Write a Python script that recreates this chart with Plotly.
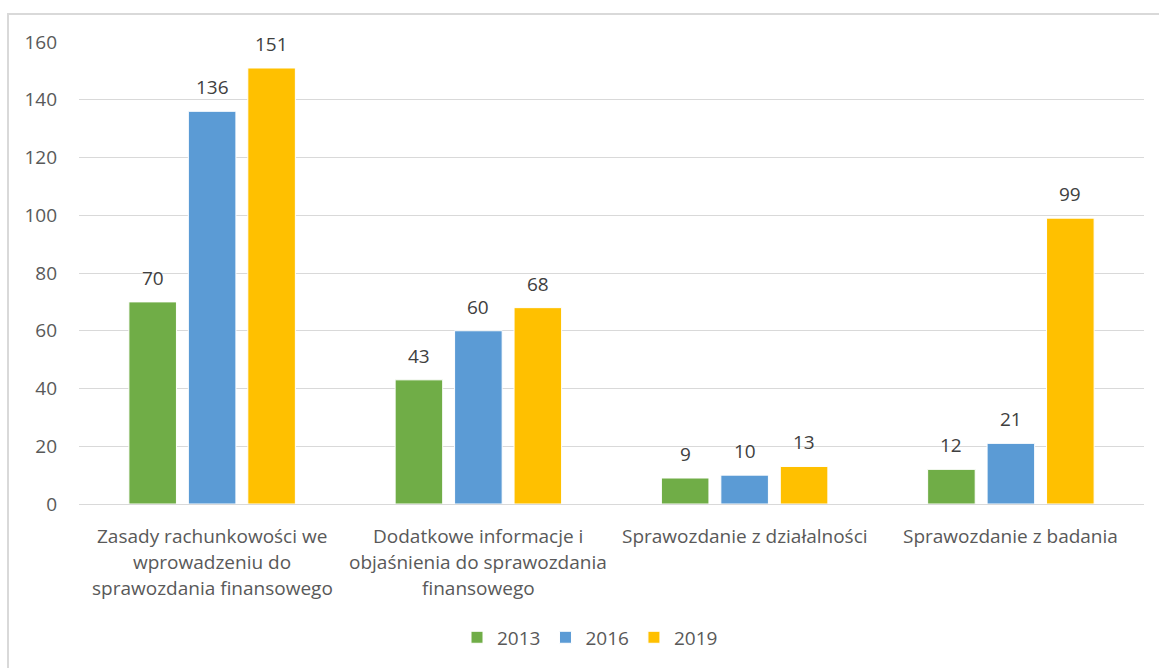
import plotly.graph_objects as go

# Categories (one label line per list element) and yearly counts
categories = [
    ["Zasady rachunkowości we", "wprowadzeniu do", "sprawozdania finansowego"],
    ["Dodatkowe informacje i", "objaśnienia do sprawozdania", "finansowego"],
    ["Sprawozdanie z działalności"],
    ["Sprawozdanie z badania"],
]
years = ["2013", "2016", "2019"]
values_2013 = [70, 43, 9, 12]
values_2016 = [136, 60, 10, 21]
values_2019 = [151, 68, 13, 99]
y_ticks = [0, 20, 40, 60, 80, 100, 120, 140, 160]

colors = {"2013": "#70AD47", "2016": "#5B9BD5", "2019": "#FFC000"}
series = {"2013": values_2013, "2016": values_2016, "2019": values_2019}

FONT = "Open Sans"
FS = 19
TXT = "#595959"
W, H = 1159, 668
ML, MR, MT, MB = 79, 15, 42, 162

keys = [" ".join(c) for c in categories]

fig = go.Figure()
for yr in years:
    fig.add_trace(go.Bar(
        name=yr, x=keys, y=series[yr],
        marker=dict(color=colors[yr], line=dict(color="white", width=1)),
    ))

annotations = []
# value labels above each bar
n = len(years)
for i, yr in enumerate(years):
    for j, v in enumerate(series[yr]):
        annotations.append(dict(
            x=j, y=v, xref="x", yref="y", text=str(v), showarrow=False,
            xshift=(i - (n - 1) / 2) * 59.5, yanchor="bottom", yshift=9,
            font=dict(family=FONT, size=FS, color="#404040"),
        ))

# category labels, one line at a time
for j, lines in enumerate(categories):
    for k, line in enumerate(lines):
        annotations.append(dict(
            x=j, y=0, xref="x", yref="y", text=line, showarrow=False,
            yanchor="middle", yshift=-32 - 26 * k,
            font=dict(family=FONT, size=FS, color=TXT),
        ))

pw = W - ML - MR
ph = H - MT - MB
fig.update_layout(
    width=W, height=H,
    margin=dict(l=ML, r=MR, t=MT, b=MB),
    paper_bgcolor="white", plot_bgcolor="white",
    barmode="group", bargap=0.33, bargroupgap=0.2,
    font=dict(family=FONT, size=FS, color=TXT),
    showlegend=True,
    legend=dict(orientation="h", x=(590 - ML) / pw, xanchor="center",
                y=-(640 - MT - ph) / ph, yanchor="middle",
                font=dict(family=FONT, size=FS, color=TXT),
                itemwidth=30, traceorder="normal"),
    xaxis=dict(showticklabels=False, showgrid=False, zeroline=False,
               showline=False, range=[-0.5, len(categories) - 0.5]),
    yaxis=dict(range=[0, 160], tickvals=y_ticks, showgrid=True,
               gridcolor="#D9D9D9", gridwidth=1, zeroline=True,
               zerolinecolor="#D9D9D9", zerolinewidth=1,
               ticks="", ticklabelstandoff=21,
               tickfont=dict(family=FONT, size=FS, color=TXT)),
    annotations=annotations,
    shapes=[dict(type="rect", xref="paper", yref="paper",
                 x0=(8 - ML) / pw, x1=(W + 5 - ML) / pw,
                 y0=-(H + 5 - MT - ph) / ph, y1=1 + (MT - 14) / ph,
                 line=dict(color="#D9D9D9", width=2), layer="below")],
)

fig.write_html("out.html")
